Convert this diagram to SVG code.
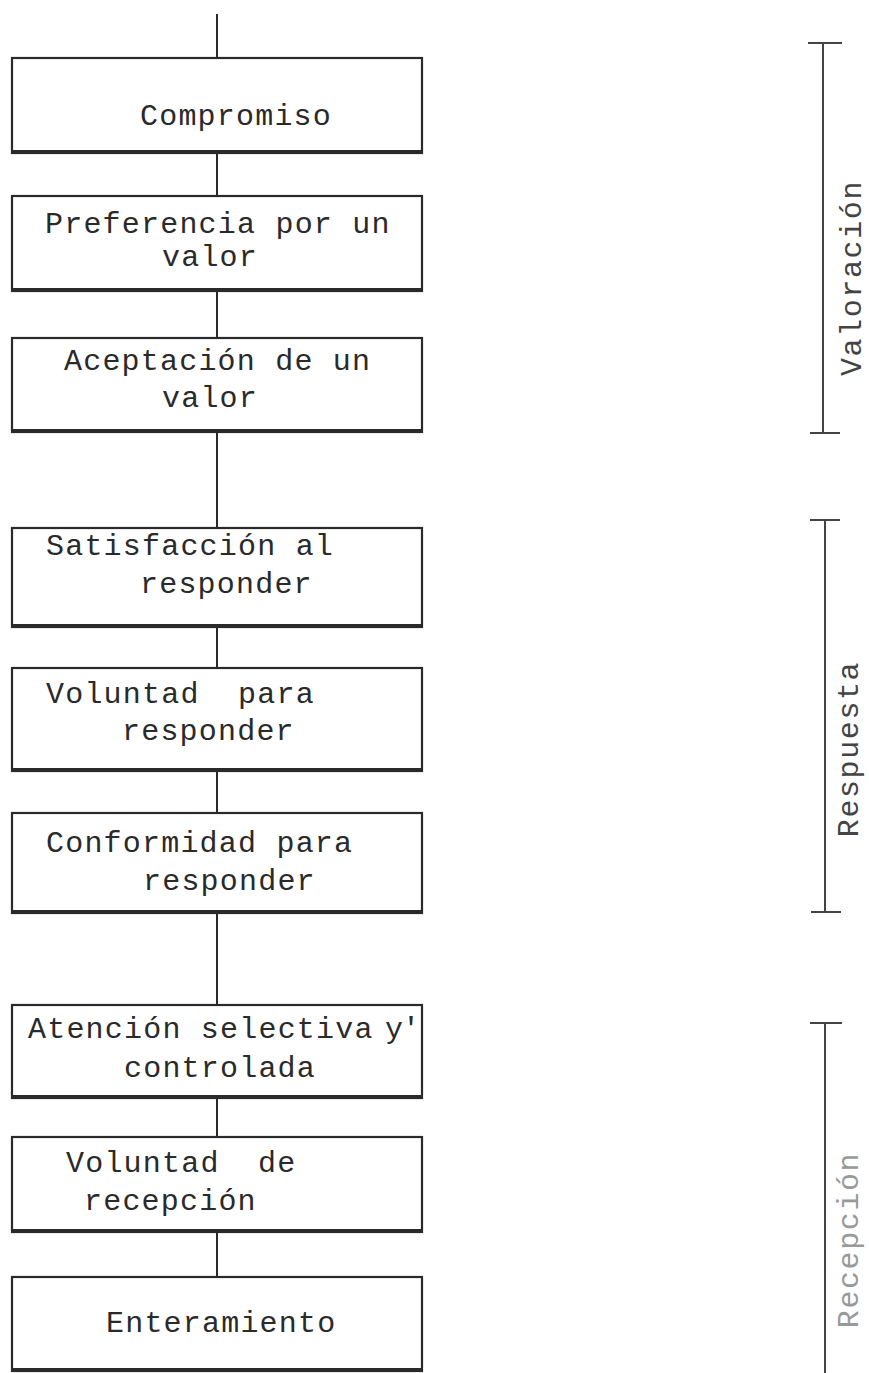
<svg xmlns="http://www.w3.org/2000/svg" width="869" height="1373" viewBox="0 0 869 1373">
<style>
.box{fill:#fff;stroke:#2a2a2a;stroke-width:2.2}
.shadow{stroke:#2a2a2a;stroke-width:4}
.t{font-family:"Liberation Mono","Courier New",monospace;font-size:30px;letter-spacing:1.2px;fill:#2a2a2a}
.c{stroke:#2a2a2a;stroke-width:2;fill:none}
.br{stroke:#444;stroke-width:2;fill:none}
.lab{font-family:"Liberation Mono","Courier New",monospace;font-size:30px;letter-spacing:1.6px;fill:#444;text-anchor:middle}
</style>
<rect width="869" height="1373" fill="#fff"/>
<g id="connectors">
<line class="c" x1="217" y1="14" x2="217" y2="58"/>
<line class="c" x1="217" y1="153" x2="217" y2="196"/>
<line class="c" x1="217" y1="291" x2="217" y2="338"/>
<line class="c" x1="217" y1="432" x2="217" y2="528"/>
<line class="c" x1="217" y1="627" x2="217" y2="668"/>
<line class="c" x1="217" y1="771" x2="217" y2="813"/>
<line class="c" x1="217" y1="913" x2="217" y2="1005"/>
<line class="c" x1="217" y1="1098" x2="217" y2="1137"/>
<line class="c" x1="217" y1="1232" x2="217" y2="1277"/>
</g>
<g id="n1"><rect class="box" x="12" y="58" width="410" height="95"/><line class="shadow" x1="11" y1="152" x2="423" y2="152"/><text class="t" x="140" y="125">Compromiso</text></g>
<g id="n2"><rect class="box" x="12" y="196" width="410" height="95"/><line class="shadow" x1="11" y1="290" x2="423" y2="290"/><text class="t" x="45" y="233">Preferencia por un</text><text class="t" x="162" y="266">valor</text></g>
<g id="n3"><rect class="box" x="12" y="338" width="410" height="94"/><line class="shadow" x1="11" y1="431" x2="423" y2="431"/><text class="t" x="64" y="370">Aceptación de un</text><text class="t" x="162" y="407">valor</text></g>
<g id="n4"><rect class="box" x="12" y="528" width="410" height="99"/><line class="shadow" x1="11" y1="626" x2="423" y2="626"/><text class="t" x="46" y="555">Satisfacción al</text><text class="t" x="140" y="593">responder</text></g>
<g id="n5"><rect class="box" x="12" y="668" width="410" height="103"/><line class="shadow" x1="11" y1="770" x2="423" y2="770"/><text class="t" x="46" y="703" xml:space="preserve">Voluntad  para</text><text class="t" x="122" y="740">responder</text></g>
<g id="n6"><rect class="box" x="12" y="813" width="410" height="100"/><line class="shadow" x1="11" y1="912" x2="423" y2="912"/><text class="t" x="46" y="852">Conformidad para</text><text class="t" x="143" y="890">responder</text></g>
<g id="n7"><rect class="box" x="12" y="1005" width="410" height="93"/><line class="shadow" x1="11" y1="1097" x2="423" y2="1097"/><text class="t" x="28" y="1038">Atención selectiva<tspan x="385">y</tspan><tspan x="402">'</tspan></text><text class="t" x="124" y="1077">controlada</text></g>
<g id="n8"><rect class="box" x="12" y="1137" width="410" height="95"/><line class="shadow" x1="11" y1="1231" x2="423" y2="1231"/><text class="t" x="66" y="1172" xml:space="preserve">Voluntad  de</text><text class="t" x="84" y="1210">recepción</text></g>
<g id="n9"><rect class="box" x="12" y="1277" width="410" height="94"/><line class="shadow" x1="11" y1="1370" x2="423" y2="1370"/><text class="t" x="106" y="1332">Enteramiento</text></g>
<g id="b-valoracion">
<line class="br" x1="823" y1="43" x2="823" y2="433"/><line class="br" x1="808" y1="43" x2="842" y2="43"/><line class="br" x1="810" y1="433" x2="840" y2="433"/>
<text class="lab" transform="translate(861,278) rotate(-90)">Valoración</text>
</g>
<g id="b-respuesta">
<line class="br" x1="825" y1="520" x2="825" y2="912"/><line class="br" x1="810" y1="520" x2="840" y2="520"/><line class="br" x1="811" y1="912" x2="841" y2="912"/>
<text class="lab" transform="translate(858,749) rotate(-90)">Respuesta</text>
</g>
<g id="b-recepcion">
<line class="br" x1="825" y1="1023" x2="825" y2="1373"/><line class="br" x1="810" y1="1023" x2="842" y2="1023"/>
<text class="lab" style="fill:#999" transform="translate(858,1240) rotate(-90)">Recepción</text>
</g>
</svg>
